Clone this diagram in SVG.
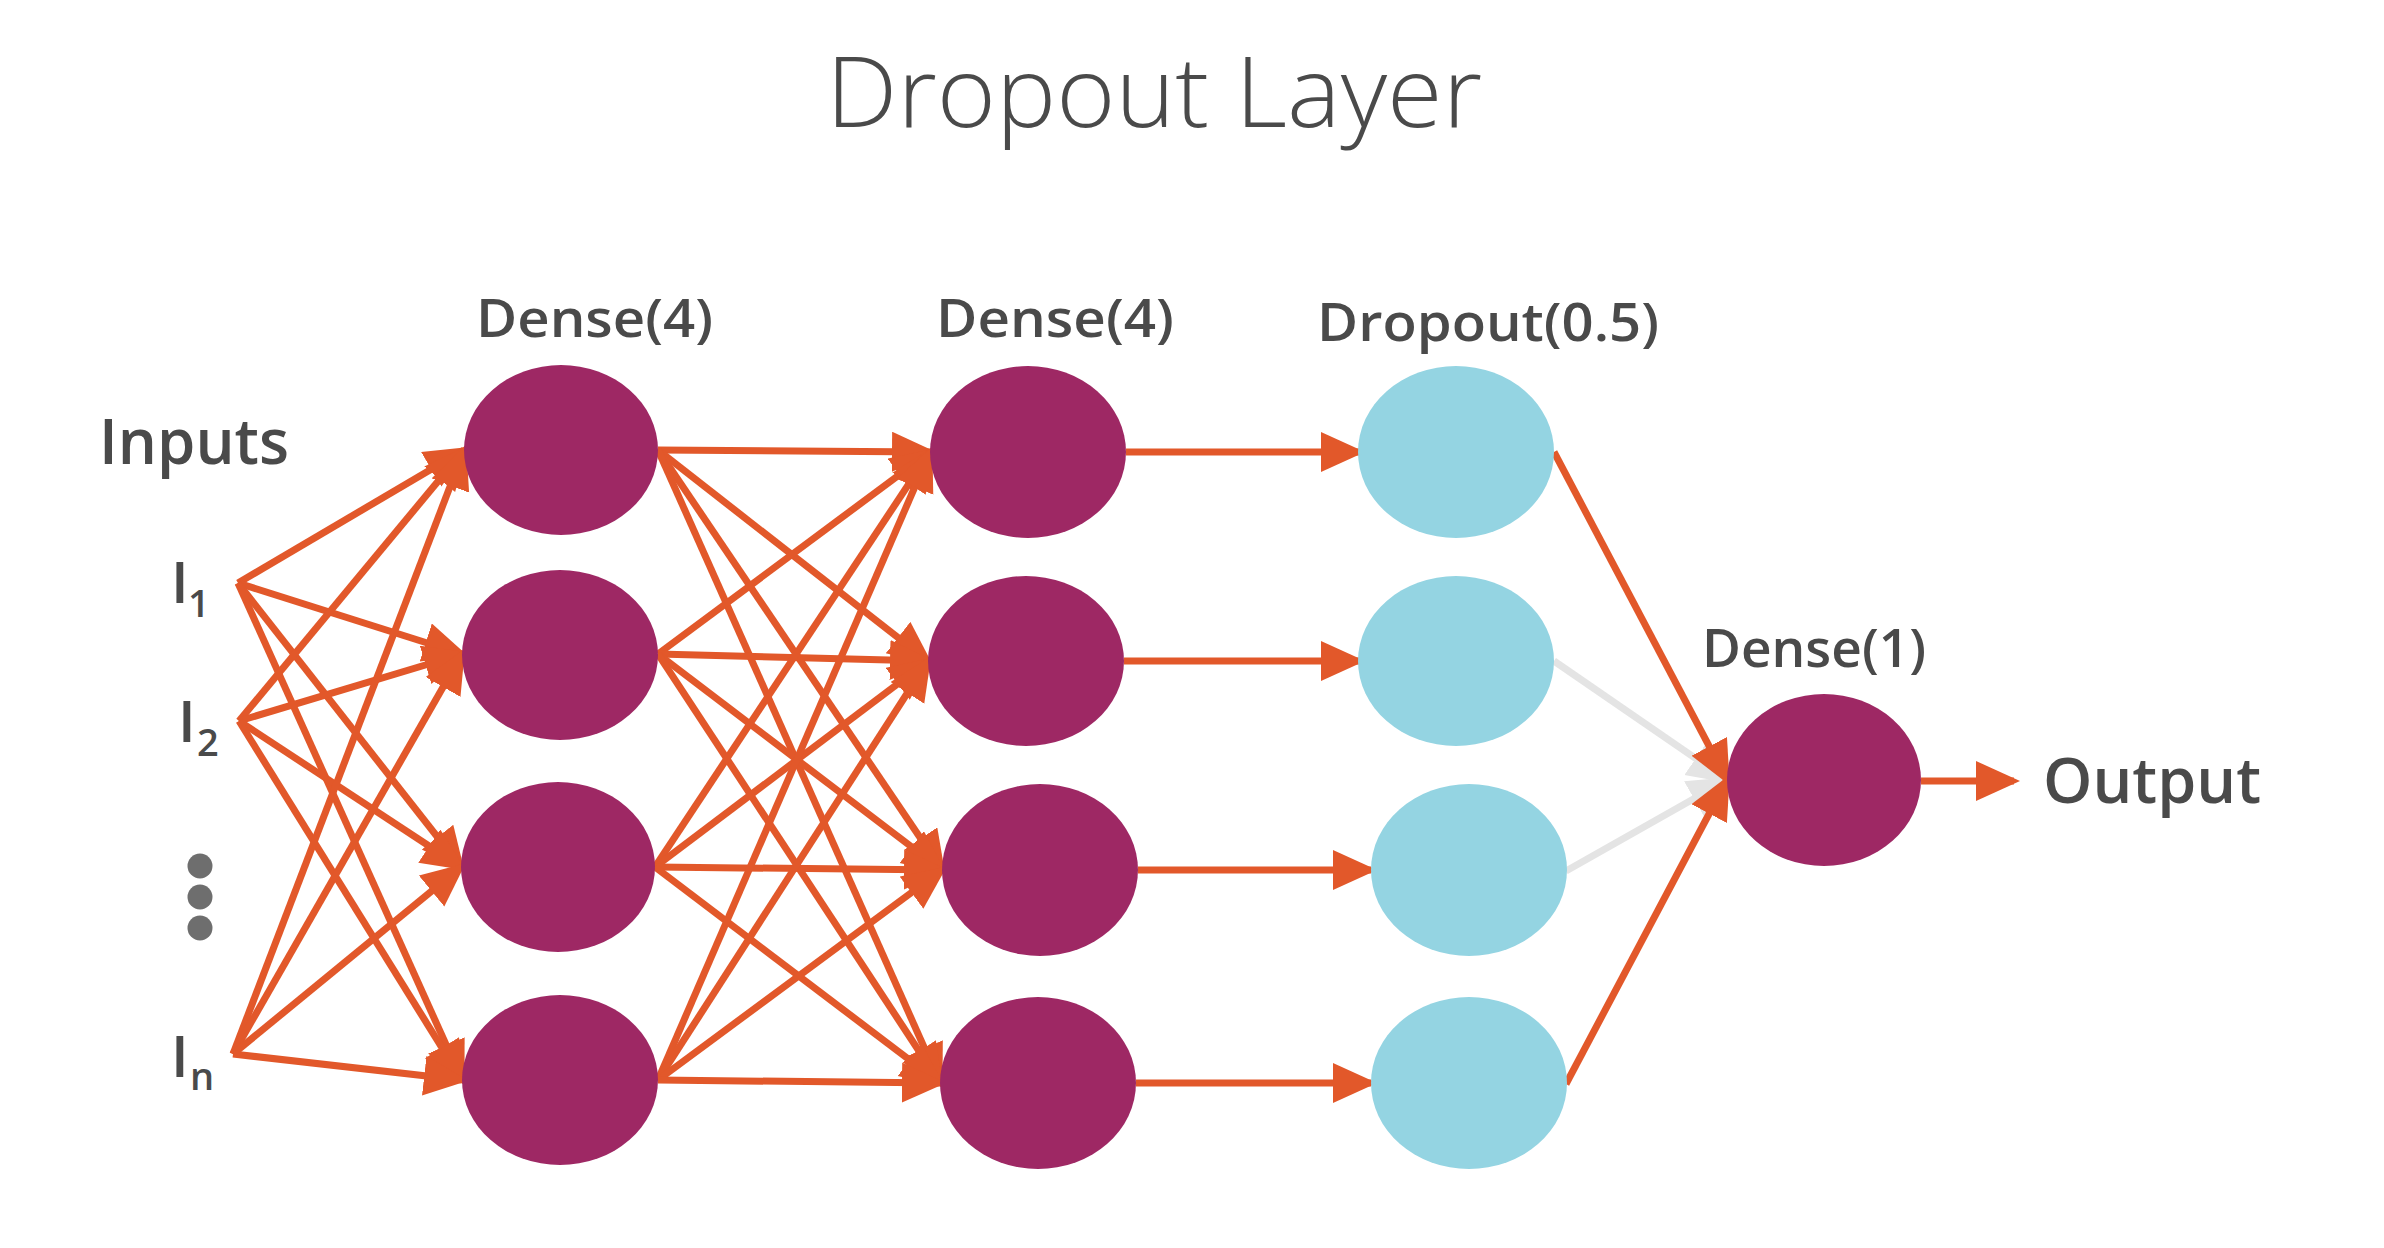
<svg xmlns="http://www.w3.org/2000/svg" width="2384" height="1248" viewBox="0 0 2384 1248">
<style>
.bg{fill:#ffffff}
.title{font-family:"Open Sans","Liberation Sans",sans-serif;font-weight:300;font-size:97px;fill:#4a4a4a}
.lbl{font-family:"Open Sans","Liberation Sans",sans-serif;font-weight:600;font-size:53px;fill:#4a4a4a}
.big{font-family:"Open Sans","Liberation Sans",sans-serif;font-weight:600;font-size:64px;fill:#4a4a4a}
.inp{font-family:"Open Sans","Liberation Sans",sans-serif;font-weight:600;font-size:58px;fill:#4a4a4a}
.sub{font-size:38px}
.dot{fill:#6e6e6e}
.c{stroke:#e2582a;stroke-width:7;fill:none;marker-end:url(#ah)}
.g{stroke:#e4e4e4;stroke-width:7;fill:none;marker-end:url(#ahg)}
.dense{fill:#9e2864}
.drop{fill:#94d4e2}
</style>
<defs>
<marker id="ah" markerUnits="userSpaceOnUse" markerWidth="46" markerHeight="42" refX="38" refY="20" orient="auto">
<path d="M0,0 L44,20 L0,40 Z" fill="#e2582a"/>
</marker>
<marker id="ahg" markerUnits="userSpaceOnUse" markerWidth="46" markerHeight="42" refX="38" refY="20" orient="auto">
<path d="M0,0 L44,20 L0,40 Z" fill="#e4e4e4"/>
</marker>
</defs>
<rect class="bg" x="0" y="0" width="2384" height="1248"/>
<text class="title" x="826" y="127" textLength="656" lengthAdjust="spacingAndGlyphs">Dropout Layer</text>

<g id="labels">
<text class="big" x="99" y="464" textLength="190" lengthAdjust="spacingAndGlyphs">Inputs</text>
<text class="lbl" x="476" y="337" textLength="237" lengthAdjust="spacingAndGlyphs">Dense(4)</text>
<text class="lbl" x="936" y="337" textLength="238" lengthAdjust="spacingAndGlyphs">Dense(4)</text>
<text class="lbl" x="1317" y="341" textLength="342" lengthAdjust="spacingAndGlyphs">Dropout(0.5)</text>
<text class="lbl" x="1702" y="667" textLength="224" lengthAdjust="spacingAndGlyphs">Dense(1)</text>
<text class="big" x="2043" y="803" textLength="218" lengthAdjust="spacingAndGlyphs">Output</text>
</g>

<g id="inputs">
<g id="input-1"><text class="inp" x="171" y="603">I<tspan class="sub" x="188" y="617">1</tspan></text></g>
<g id="input-2"><text class="inp" x="178" y="742">I<tspan class="sub" x="197" y="756">2</tspan></text></g>
<g id="input-ellipsis">
<circle class="dot" cx="200" cy="866" r="12.5"/>
<circle class="dot" cx="200" cy="897" r="12.5"/>
<circle class="dot" cx="200" cy="928" r="12.5"/>
</g>
<g id="input-n"><text class="inp" x="171" y="1077">I<tspan class="sub" x="190" y="1090">n</tspan></text></g>
</g>

<g id="connectors">
<line class="c" x1="238" y1="583" x2="464" y2="450"/>
<line class="c" x1="238" y1="583" x2="462" y2="654"/>
<line class="c" x1="238" y1="583" x2="461" y2="867"/>
<line class="c" x1="238" y1="583" x2="462" y2="1080"/>
<line class="c" x1="239" y1="721" x2="464" y2="450"/>
<line class="c" x1="239" y1="721" x2="462" y2="654"/>
<line class="c" x1="239" y1="721" x2="461" y2="867"/>
<line class="c" x1="239" y1="721" x2="462" y2="1080"/>
<line class="c" x1="233" y1="1054" x2="464" y2="450"/>
<line class="c" x1="233" y1="1054" x2="462" y2="654"/>
<line class="c" x1="233" y1="1054" x2="461" y2="867"/>
<line class="c" x1="233" y1="1054" x2="462" y2="1080"/>
<line class="c" x1="658" y1="450" x2="930" y2="452"/>
<line class="c" x1="658" y1="450" x2="928" y2="661"/>
<line class="c" x1="658" y1="450" x2="942" y2="870"/>
<line class="c" x1="658" y1="450" x2="940" y2="1083"/>
<line class="c" x1="658" y1="654" x2="930" y2="452"/>
<line class="c" x1="658" y1="654" x2="928" y2="661"/>
<line class="c" x1="658" y1="654" x2="942" y2="870"/>
<line class="c" x1="658" y1="654" x2="940" y2="1083"/>
<line class="c" x1="655" y1="867" x2="930" y2="452"/>
<line class="c" x1="655" y1="867" x2="928" y2="661"/>
<line class="c" x1="655" y1="867" x2="942" y2="870"/>
<line class="c" x1="655" y1="867" x2="940" y2="1083"/>
<line class="c" x1="658" y1="1080" x2="930" y2="452"/>
<line class="c" x1="658" y1="1080" x2="928" y2="661"/>
<line class="c" x1="658" y1="1080" x2="942" y2="870"/>
<line class="c" x1="658" y1="1080" x2="940" y2="1083"/>
<line class="c" x1="1126" y1="452" x2="1359" y2="452"/>
<line class="c" x1="1124" y1="661" x2="1359" y2="661"/>
<line class="c" x1="1138" y1="870" x2="1371" y2="870"/>
<line class="c" x1="1136" y1="1083" x2="1371" y2="1083"/>
<line class="g" x1="1554" y1="661" x2="1727" y2="780"/>
<line class="g" x1="1566" y1="871" x2="1727" y2="780"/>
<line class="c" x1="1554" y1="452" x2="1727" y2="780"/>
<line class="c" x1="1566" y1="1084" x2="1727" y2="780"/>
<line class="c" x1="1921" y1="781" x2="2014" y2="781"/>
</g>

<g id="dense1">
<g id="dense1-n1"><ellipse class="dense" cx="561" cy="450" rx="97" ry="85"/></g>
<g id="dense1-n2"><ellipse class="dense" cx="560" cy="655" rx="98" ry="85"/></g>
<g id="dense1-n3"><ellipse class="dense" cx="558" cy="867" rx="97" ry="85"/></g>
<g id="dense1-n4"><ellipse class="dense" cx="560" cy="1080" rx="98" ry="85"/></g>
</g>
<g id="dense2">
<g id="dense2-n1"><ellipse class="dense" cx="1028" cy="452" rx="98" ry="86"/></g>
<g id="dense2-n2"><ellipse class="dense" cx="1026" cy="661" rx="98" ry="85"/></g>
<g id="dense2-n3"><ellipse class="dense" cx="1040" cy="870" rx="98" ry="86"/></g>
<g id="dense2-n4"><ellipse class="dense" cx="1038" cy="1083" rx="98" ry="86"/></g>
</g>
<g id="dropout">
<g id="dropout-n1"><ellipse class="drop" cx="1456" cy="452" rx="98" ry="86"/></g>
<g id="dropout-n2"><ellipse class="drop" cx="1456" cy="661" rx="98" ry="85"/></g>
<g id="dropout-n3"><ellipse class="drop" cx="1469" cy="870" rx="98" ry="86"/></g>
<g id="dropout-n4"><ellipse class="drop" cx="1469" cy="1083" rx="98" ry="86"/></g>
</g>
<g id="dense-out"><ellipse class="dense" cx="1824" cy="780" rx="97" ry="86"/></g>
</svg>
